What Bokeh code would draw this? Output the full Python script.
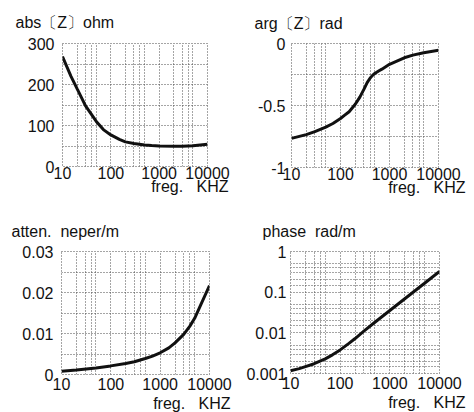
from bokeh.plotting import figure
from bokeh.layouts import column, row
from bokeh.models import FixedTicker, Title, CustomJSTickFormatter, Range1d
from bokeh.embed import file_html
from bokeh.resources import INLINE

# ---- data ----
x_ticks = [10, 100, 1000, 10000]
x_grid = [10, 20, 30, 40, 50, 100, 200, 300, 400, 500, 1000, 2000, 3000, 4000, 5000, 10000]

absz_f = [10, 15, 20, 30, 50, 70, 100, 150, 200, 300, 500, 700, 1000, 2000, 3000, 5000, 10000]
absz_v = [268, 220, 190, 148, 110, 90, 77, 66, 60, 56, 52.5, 51, 50, 49.5, 49.5, 50.5, 54]
absz_ticks = [0, 100, 200, 300]
absz_grid = [0, 50, 100, 150, 200, 250, 300]

argz_f = [10, 20, 30, 50, 70, 100, 120, 150, 200, 250, 300, 350, 400, 450, 500, 600, 700,
          1000, 2000, 3000, 5000, 10000]
argz_v = [-0.765, -0.735, -0.71, -0.675, -0.645, -0.605, -0.58, -0.55, -0.49, -0.43, -0.37,
          -0.315, -0.28, -0.257, -0.242, -0.222, -0.207, -0.168, -0.115, -0.094, -0.074, -0.055]
argz_ticks = [-1, -0.5, 0]
argz_grid = [-1, -0.75, -0.5, -0.25, 0]

att_f = [10, 20, 50, 100, 200, 300, 500, 700, 1000, 1500, 2000, 3000, 4000, 5000, 7000, 10000]
att_v = [0.0008, 0.0011, 0.0016, 0.0021, 0.0027, 0.0031, 0.0039, 0.0045, 0.0053, 0.0065,
         0.0077, 0.0098, 0.0118, 0.0137, 0.0176, 0.0217]
att_ticks = [0, 0.01, 0.02, 0.03]
att_grid = [0, 0.005, 0.01, 0.015, 0.02, 0.025, 0.03]

ph_f = [10, 15, 20, 30, 50, 70, 100, 150, 200, 300, 500, 1000, 2000, 5000, 10000]
ph_v = [0.00117, 0.00132, 0.00148, 0.00174, 0.00229, 0.00288, 0.0038, 0.0055, 0.00724,
        0.011, 0.0182, 0.0355, 0.069, 0.166, 0.324]
ph_ticks = [0.001, 0.01, 0.1, 1]
ph_grid = [0.001, 0.0015, 0.002, 0.003, 0.004, 0.005,
           0.01, 0.015, 0.02, 0.03, 0.04, 0.05,
           0.1, 0.15, 0.2, 0.3, 0.4, 0.5, 1]

NB = "\u00a0"
titles = ["abs〔Z〕ohm", "arg〔Z〕rad", "atten." + NB * 2 + "neper/m", "phase" + NB * 2 + "rad/m"]
xlabel = "freg." + NB * 3 + "KHZ"

FONT = "Liberation Sans"
GRID_COLOR = "#4a4a4a"


def make_panel(xs, ys, yrange, ylog, yticks, ygrid, title, fw, fh, bl, br, bt, bb,
               y_standoff, x_standoff, t_off, xl_off):
    p = figure(x_axis_type="log", y_axis_type="log" if ylog else "linear",
               x_range=Range1d(10, 10000), y_range=Range1d(*yrange),
               frame_width=fw, frame_height=fh,
               min_border_left=bl, min_border_right=br, min_border_top=bt, min_border_bottom=bb,
               output_backend="svg", toolbar_location=None)
    p.background_fill_color = "white"
    p.border_fill_color = "white"
    p.outline_line_color = GRID_COLOR
    p.outline_line_dash = "1 2"
    p.outline_line_width = 1

    fmt = CustomJSTickFormatter(code="return String(tick)")
    for ax in (p.xaxis[0], p.yaxis[0]):
        ax.axis_line_color = None
        ax.major_tick_line_color = None
        ax.minor_tick_line_color = None
        ax.major_tick_out = 0
        ax.major_tick_in = 0
        ax.minor_tick_out = 0
        ax.major_label_text_font = FONT
        ax.major_label_text_font_size = "16px"
        ax.major_label_text_color = "#111111"
        ax.formatter = fmt
    p.xaxis[0].ticker = FixedTicker(ticks=x_ticks)
    p.yaxis[0].ticker = FixedTicker(ticks=yticks)
    p.xaxis[0].major_label_standoff = x_standoff
    p.yaxis[0].major_label_standoff = y_standoff

    p.xgrid[0].ticker = FixedTicker(ticks=x_grid)
    p.ygrid[0].ticker = FixedTicker(ticks=ygrid)
    for g in (p.xgrid[0], p.ygrid[0]):
        g.grid_line_color = GRID_COLOR
        g.grid_line_dash = "1 2"
        g.grid_line_width = 1
        g.minor_grid_line_color = None

    p.line(xs, ys, line_color="#111111", line_width=3)

    p.add_layout(Title(text=title, align="left", vertical_align="top",
                       offset=t_off[0], standoff=t_off[1],
                       text_font=FONT, text_font_size="16px", text_font_style="normal",
                       text_color="#111111"), "above")
    p.add_layout(Title(text=xlabel, align="right", vertical_align="top",
                       offset=xl_off[0], standoff=xl_off[1],
                       text_font=FONT, text_font_size="16px", text_font_style="normal",
                       text_color="#111111"), "below")
    return p


p1 = make_panel(absz_f, absz_v, (0, 300), False, absz_ticks, absz_grid, titles[0],
                145, 123, 62, 30, 43, 40, 8, 0, (-47, 22), (-21, -8))
p2 = make_panel(argz_f, argz_v, (-1, 0), False, argz_ticks, argz_grid, titles[1],
                147, 124, 54, 36, 43, 39, 6, 0, (-37, 20), (-27, -8))
p3 = make_panel(att_f, att_v, (0, 0.03), False, att_ticks, att_grid, titles[2],
                148, 123, 61, 28, 44, 39, 8, 3, (-50, 20), (-21, 4))
p4 = make_panel(ph_f, ph_v, (0.001, 1), True, ph_ticks, ph_grid, titles[3],
                149, 122, 53, 35, 45, 39, 4, 3, (-28, 20), (-26, 4))

layout = column(row(p1, p2), row(p3, p4))

open("out.html", "w").write(file_html(layout, INLINE))
